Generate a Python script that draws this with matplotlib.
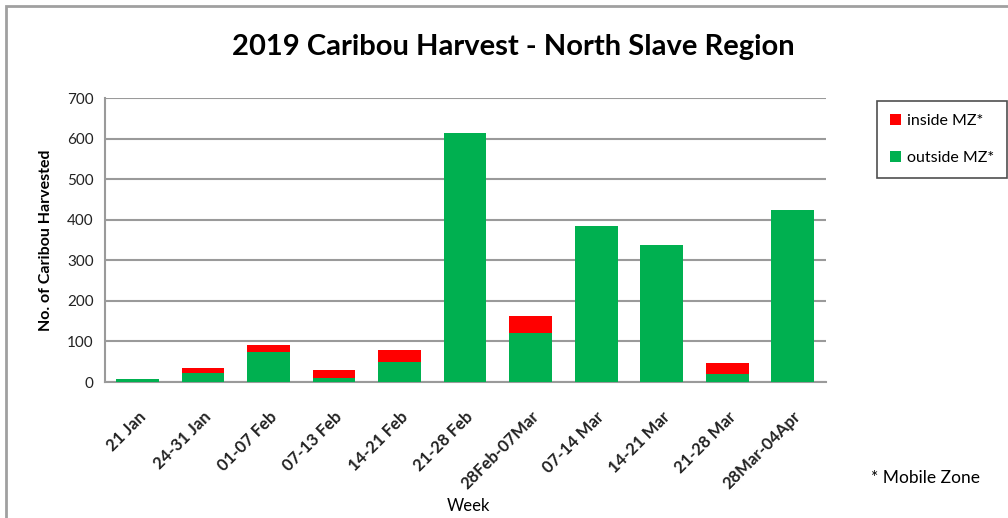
import matplotlib.pyplot as plt
import numpy as np
from matplotlib.patches import Rectangle

plt.rcParams['font.family'] = ['Lato', 'DejaVu Sans']

weeks = ['21 Jan', '24-31 Jan', '01-07 Feb', '07-13 Feb', '14-21 Feb', '21-28 Feb',
         '28Feb-07Mar', '07-14 Mar', '14-21 Mar', '21-28 Mar', '28Mar-04Apr']
outside_mz = [7, 23, 73, 10, 50, 614, 120, 384, 337, 21, 425]
inside_mz = [1, 12, 18, 19, 29, 0, 43, 0, 2, 26, 0]

fig = plt.figure(figsize=(10.08, 5.18), dpi=100)
ax = fig.add_axes([0.104, 0.2625, 0.715, 0.548])

x = np.arange(len(weeks))
ax.bar(x, outside_mz, width=0.65, color='#00B050', label='outside MZ*', zorder=3)
ax.bar(x, inside_mz, width=0.65, bottom=outside_mz, color='#FF0000',
       label='inside MZ*', zorder=3)

ax.set_xlim(-0.5, len(weeks) - 0.5)
ax.set_ylim(0, 700)
ax.set_yticks(range(0, 701, 100))
ax.yaxis.grid(True, color='#9a9a9a', linewidth=1.5, zorder=0)
ax.set_axisbelow(True)
for side in ['top', 'right']:
    ax.spines[side].set_visible(False)
for side in ['left', 'bottom']:
    ax.spines[side].set_color('#9a9a9a')
    ax.spines[side].set_linewidth(1.5)
ax.tick_params(axis='y', length=0, pad=8, labelsize=11, labelcolor='#222222')
ax.tick_params(axis='x', length=0, pad=19)
ax.set_xticks(x)
ax.set_xticklabels(weeks, rotation=45, ha='right', rotation_mode='anchor',
                   fontsize=12, fontweight='bold', color='#222222')

ax.set_ylabel('No. of Caribou Harvested', fontsize=11.5, fontweight='bold', labelpad=10)
ax.set_xlabel('Week', fontsize=12)
ax.xaxis.label.set_va('center')
ax.xaxis.set_label_coords(0.505, -0.435)

fig.text(0.509, 0.909, '2019 Caribou Harvest - North Slave Region',
         ha='center', va='center', fontsize=21, fontweight='bold')

handles, labels = ax.get_legend_handles_labels()
leg = fig.legend(handles[::-1], labels[::-1], loc='upper left',
                 bbox_to_anchor=(0.862, 0.82), fontsize=11.5, frameon=True,
                 fancybox=False, edgecolor='#222222', handlelength=0.7,
                 handleheight=0.7, handletextpad=0.4, labelspacing=1.4,
                 borderpad=0.8)
leg.get_frame().set_linewidth(1.2)

fig.text(0.864, 0.077, '* Mobile Zone', fontsize=12.5, ha='left', va='center')

# chart border, cut off on the right and at the bottom
fig.patches.append(Rectangle((0.006, -0.05), 1.1, 1.038, transform=fig.transFigure,
                             fill=False, edgecolor='#a0a0a0', linewidth=2))

fig.savefig('out.png', dpi=100)
